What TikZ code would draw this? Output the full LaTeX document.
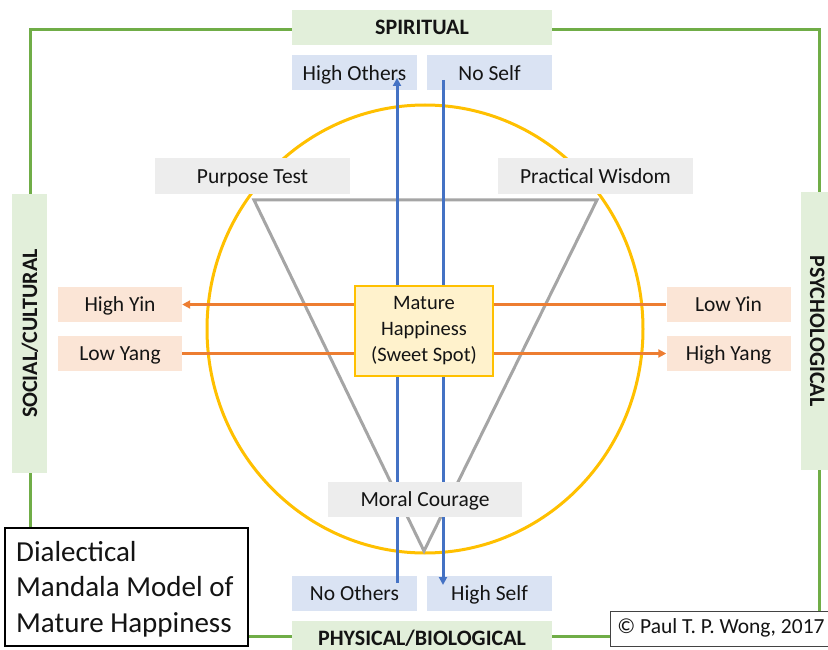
\documentclass[tikz,border=0pt]{standalone}
\usepackage{fontspec}
\setmainfont{Carlito}
\usetikzlibrary{arrows.meta,calc}
\definecolor{frameg}{HTML}{70AD47}
\definecolor{greenbox}{HTML}{E2EFDA}
\definecolor{bluebox}{HTML}{DAE3F3}
\definecolor{graybox}{HTML}{EDEDED}
\definecolor{peachbox}{HTML}{FBE5D6}
\definecolor{matfill}{HTML}{FFF2CC}
\definecolor{gold}{HTML}{FFC000}
\definecolor{triag}{HTML}{A5A5A5}
\definecolor{blueln}{HTML}{4472C4}
\definecolor{orangeln}{HTML}{ED7D31}
\definecolor{txt}{HTML}{141414}
\begin{document}
\begin{tikzpicture}[x=1pt,y=-1pt,
  lbl/.style={inner sep=0pt, text=txt, font=\fontsize{21.5}{25}\selectfont,
    text height=19.5pt, text depth=5pt},
  greenlbl/.style={lbl, fill=greenbox, font=\fontsize{22}{26}\selectfont\bfseries,
    text height=20pt},
  bluelbl/.style={lbl, fill=bluebox, minimum width=125, minimum height=35},
  graylbl/.style={lbl, fill=graybox, minimum width=195, minimum height=36},
  peachlbl/.style={lbl, fill=peachbox, minimum width=124, minimum height=35},
  bluearrow/.style={draw=blueln, line width=3pt, -{Triangle[length=8pt,width=8pt]}},
  orangearrow/.style={draw=orangeln, line width=3pt, -{Triangle[length=8pt,width=8pt]}},
]
\useasboundingbox (0,0) rectangle (828,650);
\fill[white] (0,0) rectangle (828,650);
% outer frame
\draw[frameg, line width=3pt] (30,30) rectangle (819,636);
% circle
\draw[gold, line width=3pt] (425,329) ellipse [x radius=218, y radius=224];
% triangle
\draw[triag, line width=3pt, line join=miter] (254,200) -- (597,200) -- (424,551) -- cycle;
% blue boxes
\node[bluelbl] (highothers) at (354.5,73) {High Others};
\node[bluelbl] (noself) at (489.5,73) {No Self};
\node[bluelbl] (noothers) at (354.5,593.5) {No Others};
\node[bluelbl] (highself) at (489.5,593.5) {High Self};
% peach boxes
\node[peachlbl] (highyin) at (120,304.5) {High Yin};
\node[peachlbl] (lowyang) at (120,353.5) {Low Yang};
\node[peachlbl] (lowyin) at (728.5,304.5) {Low Yin};
\node[peachlbl] (highyang) at (728.5,353.5) {High Yang};
% orange connectors
\draw[orangearrow] (lowyin.west) -- (highyin.east);
\draw[orangearrow] (lowyang.east) -- (highyang.west);
% blue connectors
\coordinate (bupstart) at ($(noothers.center)+(42.5,-10.5)$);
\coordinate (bupend) at ($(highothers.center)+(42.5,5)$);
\coordinate (bdnstart) at ($(noself.center)+(-46.5,7)$);
\coordinate (bdnend) at ($(highself.center)+(-46.5,-8.5)$);
\draw[bluearrow] (bupstart) -- (bupend);
\draw[bluearrow] (bdnstart) -- (bdnend);
% gray boxes
\node[graylbl] (purpose) at (252.5,176) {Purpose Test};
\node[graylbl] (practical) at (595.5,176) {Practical Wisdom};
\node[graylbl, minimum width=194, minimum height=35] (moral) at (425,499.5) {Moral Courage};
% centre
\node[inner sep=0pt, text=txt, fill=matfill, draw=gold, line width=2pt, minimum width=138, minimum height=90,
  align=center, font=\fontsize{20.5}{26}\selectfont] (mature) at (424,331)
  {Mature\\Happiness\\(Sweet Spot)};
% green dimension boxes
\node[greenlbl, minimum width=260, minimum height=35] (spiritual) at (422,27.5) {SPIRITUAL};
\node[greenlbl, minimum width=260, minimum height=34] (physical) at (422,638) {PHYSICAL/BIOLOGICAL};
\node[greenlbl, minimum width=279, minimum height=35, rotate=90] (social) at (29.5,333.5) {SOCIAL/CULTURAL};
\node[greenlbl, minimum width=278, minimum height=35, rotate=-90, text height=22pt] (psych) at (818.5,331) {PSYCHOLOGICAL};
% title
\draw[black, fill=white, line width=2pt] (5,528) rectangle (248,646);
\node[anchor=west, align=left, inner sep=0pt, text=txt,
  font=\fontsize{29}{35.5}\selectfont] (title) at (16,589)
  {Dialectical\\Mandala Model of\\Mature Happiness};
% copyright
\node[draw=txt!80, fill=white, line width=1pt, minimum width=222, minimum height=35,
  inner sep=0pt, text=txt, font=\fontsize{21.5}{25}\selectfont,
  text height=14pt, text depth=5pt] (copy) at (721,628.5)
  {© Paul T. P. Wong, 2017};
\end{tikzpicture}
\end{document}
